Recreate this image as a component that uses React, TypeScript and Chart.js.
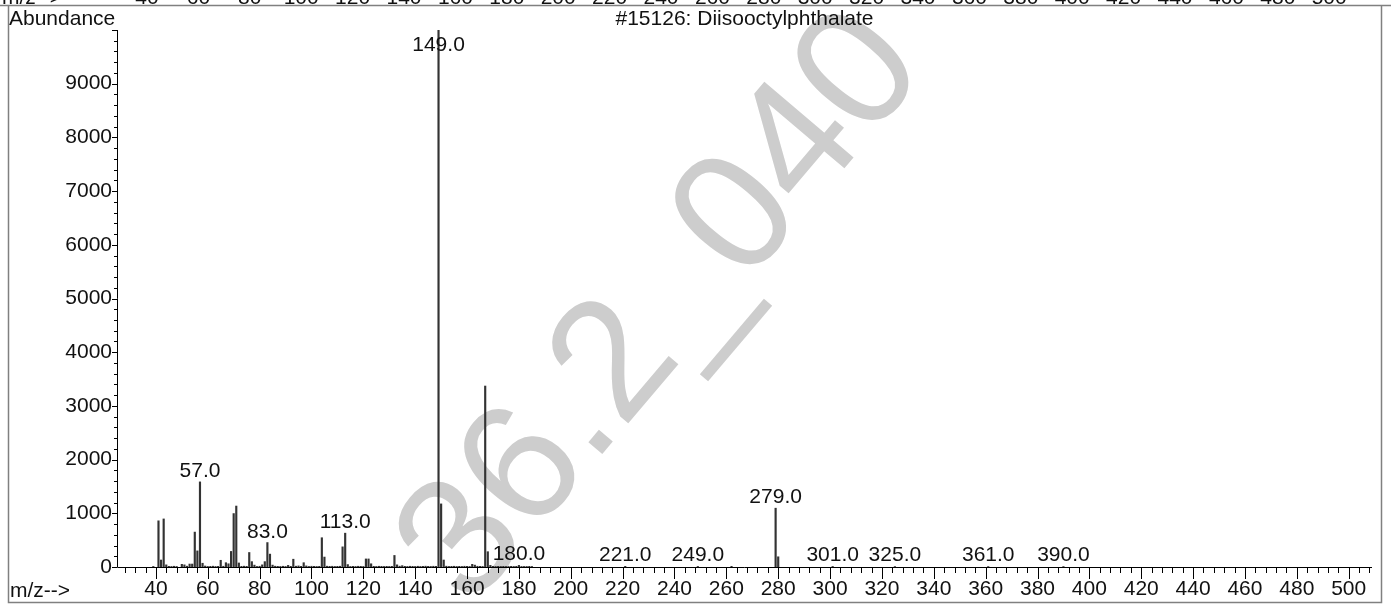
import { useEffect, useRef } from 'react';
import { Chart, registerables } from 'chart.js';

Chart.register(...registerables);

const FONT = '"Liberation Sans", Arial, Helvetica, sans-serif';

const titleText = '#15126: Diisooctylphthalate';
const yAxisTitle = 'Abundance';
const xAxisTitle = 'm/z-->';
const watermarkText = '36.2_040';

// main peaks (m/z, abundance)
const peakMz = [41, 42, 43, 44, 50, 51, 53, 54, 55, 56, 57, 58, 65, 67, 68, 69, 70, 71, 72, 76, 77, 78, 81, 82, 83, 84, 85, 91, 93, 95, 97, 98, 104, 105, 112, 113, 114, 121, 122, 123, 132, 133, 135, 149, 150, 151, 162, 163, 167, 168, 169, 180, 221, 249, 262, 279, 280, 301, 325, 361, 390];
const peakAbundance = [860, 130, 895, 40, 50, 40, 55, 55, 650, 300, 1585, 70, 125, 80, 60, 290, 995, 1135, 75, 270, 100, 35, 40, 100, 455, 240, 35, 30, 145, 20, 80, 20, 545, 185, 375, 630, 45, 150, 150, 60, 215, 40, 25, 9999, 1175, 130, 50, 35, 3370, 285, 30, 30, 12, 10, 12, 1095, 190, 10, 8, 8, 8];

// small baseline noise
const noiseMz = [39, 45, 46, 47, 48, 52, 59, 60, 61, 62, 63, 64, 66, 73, 74, 75, 79, 80, 86, 87, 88, 89, 90, 92, 94, 96, 99, 100, 101, 102, 103, 106, 107, 108, 109, 110, 111, 115, 116, 117, 118, 119, 120, 124, 125, 126, 127, 128, 129, 130, 131, 134, 136, 137, 138, 139, 140, 141, 142, 143, 144, 145, 146, 147, 148, 152, 153, 154, 155, 156, 157, 158, 159, 160, 161, 164, 165, 166, 170, 171, 172, 173, 174, 175, 176, 177, 178, 179, 181, 182, 183, 184, 185];
const noiseAbundance = [10, 12, 10, 14, 10, 15, 18, 10, 12, 15, 10, 12, 14, 12, 15, 12, 10, 14, 15, 12, 10, 14, 10, 12, 15, 12, 10, 14, 12, 10, 12, 15, 12, 14, 10, 12, 14, 10, 12, 10, 14, 12, 10, 12, 10, 14, 12, 10, 12, 10, 12, 15, 12, 10, 14, 12, 10, 14, 10, 12, 15, 12, 10, 14, 12, 15, 10, 12, 14, 10, 12, 10, 14, 12, 10, 14, 12, 10, 12, 10, 12, 10, 12, 10, 10, 12, 10, 12, 10, 10, 10, 12, 10];

const labeledMz = [57, 83, 113, 149, 180, 221, 249, 279, 301, 325, 361, 390];

const xMin = 25;
const xMax = 509;
const xMajorStep = 20;
const xMinorStep = 4;
const yMin = 0;
const yMax = 10000;
const yMajorStep = 1000;
const yMinorStep = 200;

// tick labels of the panel above (cut off at the top edge)
const prevPanelTickLabels = ['40', '60', '80', '100', '120', '140', '160', '180', '200', '220', '240', '260', '280', '300', '320', '340', '360', '380', '400', '420', '440', '460', '480', '500'];

const decorPlugin = {
  id: 'decor',
  beforeDraw(chart: any) {
    const ctx = chart.ctx as CanvasRenderingContext2D;
    ctx.save();
    ctx.fillStyle = '#ffffff';
    ctx.fillRect(0, 0, chart.width, chart.height);
    // watermark
    ctx.translate(470, 610);
    ctx.rotate(-Math.atan2(590, 500));
    ctx.font = `170px ${FONT}`;
    ctx.fillStyle = '#cdcdcd';
    ctx.textBaseline = 'alphabetic';
    ctx.textAlign = 'left';
    ctx.fillText(watermarkText, 0, 0);
    ctx.restore();
  },
  afterDraw(chart: any) {
    const ctx = chart.ctx as CanvasRenderingContext2D;
    const xs = chart.scales.x;
    const ys = chart.scales.y;
    const area = chart.chartArea;
    ctx.save();
    ctx.strokeStyle = '#000';
    ctx.lineWidth = 1;
    // axes lines
    ctx.beginPath();
    ctx.moveTo(area.left + 0.5, area.top);
    ctx.lineTo(area.left + 0.5, area.bottom + 0.5);
    ctx.lineTo(area.right, area.bottom + 0.5);
    ctx.stroke();
    // x ticks
    ctx.beginPath();
    for (let v = Math.ceil(xMin / xMinorStep) * xMinorStep; v <= xMax; v += xMinorStep) {
      const px = Math.round(xs.getPixelForValue(v)) + 0.5;
      const len = v % xMajorStep === 0 ? 12 : 6;
      ctx.moveTo(px, area.bottom);
      ctx.lineTo(px, area.bottom + len);
    }
    // y ticks
    for (let v = yMin; v <= yMax; v += yMinorStep) {
      const py = Math.round(ys.getPixelForValue(v)) + 0.5;
      const len = v % yMajorStep === 0 ? 5 : 3;
      ctx.moveTo(area.left, py);
      ctx.lineTo(area.left - len, py);
    }
    ctx.stroke();

    // peak labels
    ctx.fillStyle = '#111';
    ctx.font = `21px ${FONT}`;
    ctx.textAlign = 'center';
    ctx.textBaseline = 'alphabetic';
    for (const m of labeledMz) {
      const i = peakMz.indexOf(m);
      if (i < 0) continue;
      const px = xs.getPixelForValue(m);
      const top = ys.getPixelForValue(peakAbundance[i]);
      const base = Math.max(51, Math.min(561, top - 5));
      ctx.fillText(m.toFixed(1), px, base);
    }

    // titles
    ctx.textAlign = 'left';
    ctx.fillText(yAxisTitle, 9, 25);
    ctx.fillText(xAxisTitle, 10, 597);
    ctx.textAlign = 'center';
    ctx.fillText(titleText, (area.left + area.right) / 2, 25);

    // panel above: cut off labels
    ctx.textAlign = 'left';
    ctx.fillText(xAxisTitle, 2, 3.5);
    ctx.textAlign = 'center';
    prevPanelTickLabels.forEach((t, k) => {
      ctx.fillText(t, 147 + k * 51.4, 3.5);
    });

    // frame
    ctx.strokeStyle = '#808080';
    ctx.lineWidth = 1.5;
    ctx.beginPath();
    ctx.moveTo(0, 5.5);
    ctx.lineTo(chart.width, 5.5);
    ctx.moveTo(8.5, 5.5);
    ctx.lineTo(8.5, 602.5);
    ctx.lineTo(1381.5, 602.5);
    ctx.lineTo(1381.5, 5.5);
    ctx.stroke();
    ctx.restore();
  },
};

export default function App() {
  const ref = useRef<HTMLCanvasElement | null>(null);
  useEffect(() => {
    const canvas = ref.current;
    if (!canvas) return;
    const points = [
      ...noiseMz.map((m, i) => ({ x: m, y: noiseAbundance[i] })),
      ...peakMz.map((m, i) => ({ x: m, y: peakAbundance[i] })),
    ];
    const chart = new Chart(canvas, {
      type: 'bar',
      data: {
        datasets: [
          {
            data: points as any,
            backgroundColor: '#333333',
            borderWidth: 0,
            barThickness: 1.5,
            grouped: false,
          } as any,
        ],
      },
      options: {
        responsive: false,
        animation: false,
        devicePixelRatio: 1,
        layout: { padding: { left: 0, right: 19, top: 30, bottom: 0 } },
        plugins: { legend: { display: false }, tooltip: { enabled: false }, title: { display: false } },
        scales: {
          x: {
            type: 'linear',
            offset: false,
            min: xMin,
            max: xMax,
            grid: { display: false, drawTicks: false, offset: false },
            border: { display: false },
            ticks: {
              stepSize: xMajorStep,
              includeBounds: false,
              autoSkip: false,
              maxRotation: 0,
              padding: 10,
              color: '#111',
              font: { family: FONT, size: 21 },
              callback: (v: any) => String(v),
            },
            afterFit: (s: any) => {
              s.height = 38;
            },
          },
          y: {
            min: yMin,
            max: yMax,
            grid: { display: false, drawTicks: false },
            border: { display: false },
            ticks: {
              stepSize: yMajorStep,
              padding: 5,
              color: '#111',
              font: { family: FONT, size: 21 },
              callback: (v: any) => (v >= yMax ? '' : String(v)),
            },
            afterFit: (s: any) => {
              s.width = 117;
            },
          },
        },
      } as any,
      plugins: [decorPlugin],
    });
    return () => chart.destroy();
  }, []);
  return (
    <div style={{ position: 'absolute', left: 0, top: 0, width: 1391, height: 605 }}>
      <canvas ref={ref} width={1391} height={605} style={{ display: 'block' }} />
    </div>
  );
}
